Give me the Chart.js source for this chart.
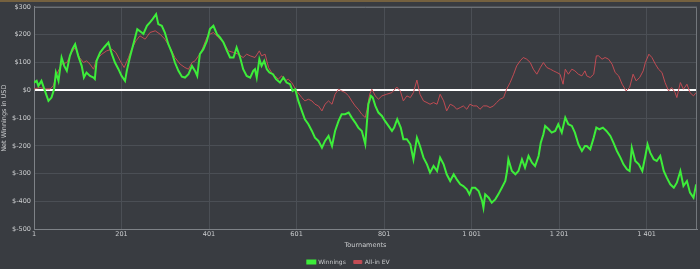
<!DOCTYPE html>
<html>
<head>
<meta charset="utf-8">
<script src="https://cdn.jsdelivr.net/npm/chart.js@4.4.1/dist/chart.umd.min.js"></script>
<style>
  html, body { margin: 0; padding: 0; background: #393c41; }
  #wrap { width: 700px; height: 269px; overflow: hidden; }
</style>
</head>
<body>
<div id="wrap"><canvas id="netChart" width="700" height="269"></canvas></div>
<script>
// Winnings (green) - tournament number / net USD
var winT = [1, 7, 11, 18, 26, 34, 41, 47, 51, 57, 64, 70, 76, 83, 89, 95, 102, 110, 115, 121,
  129, 137, 140, 144, 152, 161, 171, 179, 186, 194, 201, 209, 213, 220, 228, 237, 247, 251, 259, 266,
  272, 280, 285, 293, 300, 308, 316, 323, 331, 339, 346, 354, 362, 369, 374, 380, 388, 396, 403, 411,
  419, 426, 434, 442, 449, 457, 464, 472, 479, 487, 495, 502, 506, 510, 516, 521, 527, 533, 539, 547,
  554, 563, 571, 578, 586, 592, 598, 605, 613, 620, 628, 636, 643, 651, 659, 666, 674, 682, 689, 697,
  704, 712, 720, 727, 735, 742, 750, 754, 758, 762, 765, 771, 775, 781, 788, 796, 803, 811, 819, 824,
  831, 839, 845, 853, 861, 868, 876, 883, 891, 899, 906, 914, 922, 929, 937, 944, 952, 960, 967, 975,
  982, 990, 996, 1002, 1009, 1017, 1025, 1028, 1032, 1040, 1047, 1055, 1062, 1070, 1078, 1082, 1085, 1093, 1101, 1108,
  1116, 1123, 1131, 1139, 1146, 1154, 1159, 1165, 1169, 1177, 1184, 1192, 1199, 1207, 1215, 1222, 1230, 1237, 1245, 1253,
  1260, 1264, 1272, 1280, 1286, 1293, 1301, 1309, 1318, 1325, 1333, 1341, 1348, 1356, 1362, 1367, 1375, 1383, 1391, 1398,
  1403, 1409, 1417, 1424, 1432, 1440, 1447, 1455, 1463, 1470, 1478, 1485, 1493, 1500, 1508, 1514];
var winV = [28, 34, 16, 34, -2, -38, -26, 5, 64, 34, 118, 88, 70, 124, 149, 166, 124, 88, 46, 64,
  52, 46, 41, 106, 136, 154, 172, 130, 100, 76, 52, 34, 70, 118, 166, 220, 208, 203, 232, 244,
  256, 274, 238, 232, 208, 166, 136, 100, 70, 49, 46, 58, 88, 70, 52, 130, 148, 178, 220, 232,
  202, 190, 172, 142, 118, 118, 154, 118, 76, 52, 46, 70, 76, 46, 112, 88, 106, 76, 64, 58,
  40, 28, 46, 28, 22, -2, 4, -38, -74, -104, -122, -146, -170, -182, -206, -182, -164, -200, -146, -110,
  -86, -86, -80, -98, -116, -134, -146, -170, -194, -110, -50, -20, -26, -56, -80, -92, -110, -128, -146, -134,
  -104, -134, -176, -176, -194, -248, -170, -200, -242, -266, -296, -272, -290, -242, -266, -302, -326, -302, -320, -338,
  -344, -356, -374, -350, -350, -362, -398, -422, -374, -386, -404, -392, -374, -350, -326, -290, -248, -290, -302, -290,
  -248, -278, -236, -260, -272, -236, -188, -158, -128, -140, -152, -146, -122, -152, -98, -122, -128, -152, -194, -218,
  -200, -200, -212, -170, -134, -140, -134, -146, -164, -188, -218, -242, -266, -284, -290, -206, -254, -266, -290, -236,
  -194, -224, -248, -254, -236, -290, -314, -338, -350, -332, -290, -344, -326, -368, -386, -338];

// All-in EV (red)
var evT = [1, 15, 26, 38, 45, 53, 64, 76, 87, 95, 105, 114, 121, 129, 137, 144, 156, 167, 179, 188,
  198, 207, 217, 224, 234, 243, 255, 266, 278, 289, 300, 312, 323, 335, 346, 354, 362, 369, 377, 384,
  396, 403, 411, 422, 434, 445, 457, 468, 479, 487, 495, 506, 516, 521, 529, 537, 544, 552, 559, 567,
  575, 582, 590, 601, 613, 620, 628, 636, 643, 651, 659, 666, 674, 682, 689, 697, 704, 712, 720, 727,
  735, 742, 750, 758, 762, 768, 773, 781, 788, 796, 807, 819, 830, 838, 845, 853, 861, 868, 876, 883,
  891, 899, 906, 914, 922, 929, 937, 944, 952, 960, 967, 975, 982, 990, 997, 1005, 1013, 1020, 1028, 1036,
  1043, 1051, 1058, 1066, 1074, 1081, 1089, 1097, 1104, 1112, 1119, 1127, 1135, 1142, 1150, 1158, 1165, 1173, 1181, 1188,
  1196, 1203, 1210, 1215, 1222, 1230, 1237, 1245, 1253, 1260, 1264, 1272, 1280, 1286, 1291, 1299, 1306, 1314, 1322, 1329,
  1337, 1345, 1354, 1362, 1370, 1377, 1385, 1393, 1398, 1406, 1413, 1421, 1428, 1436, 1443, 1451, 1458, 1466, 1470, 1478,
  1485, 1493, 1500, 1508, 1514];
var evV = [5, 10, 5, 5, 16, 58, 94, 100, 136, 154, 118, 100, 106, 94, 76, 112, 130, 142, 148, 136,
  106, 82, 118, 148, 178, 196, 184, 208, 214, 202, 184, 154, 118, 94, 82, 76, 100, 106, 124, 142,
  190, 202, 208, 190, 172, 142, 136, 130, 118, 130, 124, 118, 142, 124, 130, 82, 64, 52, 40, 52,
  34, 40, 28, -2, -26, -38, -32, -38, -50, -56, -74, -50, -38, -50, -14, 4, -2, -8, -20, -38,
  -56, -68, -86, -98, -68, -14, 4, -20, -32, -20, -14, -8, 12, -2, -38, -20, -26, -8, 37, -14,
  -38, -44, -50, -44, -50, -14, -38, -74, -50, -56, -68, -62, -56, -68, -50, -56, -56, -68, -56, -56,
  -62, -56, -44, -32, -26, 4, 28, 58, 88, 106, 118, 112, 100, 76, 58, 82, 100, 82, 76, 70,
  64, 58, 22, 76, 58, 76, 70, 58, 52, 70, 52, 46, 58, 124, 124, 112, 118, 112, 94, 64,
  52, 22, -2, 10, 58, 34, 46, 70, 100, 130, 118, 94, 76, 64, 28, -2, 10, -8, -26, 28,
  4, 22, -8, -20, -8];

var xTicks = [1, 201, 401, 601, 801, 1001, 1201, 1401];
var yTicks = [-500, -400, -300, -200, -100, 0, 100, 200, 300];

var textColor = '#c9cbcd';
var gridColor = '#4b4f55';
var tickFont = { family: 'DejaVu Sans', size: 6.5 };
var legendFont = { family: 'DejaVu Sans', size: 6 };

function toPoints(xs, ys) {
    return xs.map(function(x, i) { return { x: x, y: ys[i] }; });
}

// "1001" -> "1 001"
function spaced(v) {
    return String(v).replace(/\B(?=(\d{3})+(?!\d))/g, ' ');
}

var backdrop = {
    id: 'backdrop',
    beforeDraw: function(chart) {
        var c = chart.ctx;
        c.save();
        c.fillStyle = '#393c41';
        c.fillRect(0, 0, chart.width, chart.height);
        c.fillStyle = '#75613f';
        c.fillRect(0, 0, chart.width, 2);
        c.restore();
    },
    afterDraw: function(chart) {
        var a = chart.chartArea, c = chart.ctx;
        c.save();
        c.strokeStyle = '#73777c';
        c.lineWidth = 1;
        c.beginPath();
        c.moveTo(a.left, a.top + 0.5);
        c.lineTo(a.right - 0.5, a.top + 0.5);
        c.lineTo(a.right - 0.5, a.bottom);
        c.stroke();
        c.restore();
    }
};

var ctx = document.getElementById('netChart').getContext('2d');
var netChart = new Chart(ctx, {
    type: 'line',
    data: {
        datasets: [
            {
                label: 'Winnings',
                data: toPoints(winT, winV),
                borderColor: '#3ded3a',
                backgroundColor: '#3ded3a',
                borderWidth: 2,
                pointRadius: 0,
                tension: 0
            },
            {
                label: 'All-in EV',
                data: toPoints(evT, evV),
                borderColor: '#c24c54',
                backgroundColor: '#c24c54',
                borderWidth: 1,
                pointRadius: 0,
                tension: 0
            }
        ]
    },
    options: {
        responsive: false,
        devicePixelRatio: 1,
        animation: false,
        layout: { padding: { top: 2, right: 3, left: 0, bottom: -6 } },
        plugins: {
            tooltip: { enabled: false },
            legend: {
                position: 'bottom',
                labels: {
                    color: textColor,
                    font: legendFont,
                    boxWidth: 8,
                    boxHeight: 3,
                    padding: 8
                }
            }
        },
        scales: {
            x: {
                type: 'linear',
                min: 1,
                max: 1516,
                afterBuildTicks: function(scale) {
                    scale.ticks = xTicks.map(function(v) { return { value: v }; });
                },
                ticks: {
                    color: textColor,
                    font: tickFont,
                    maxRotation: 0,
                    autoSkip: false,
                    padding: 1,
                    callback: function(v) { return spaced(v); }
                },
                grid: { color: gridColor, drawTicks: false },
                border: { color: '#7e8287' },
                title: {
                    display: true,
                    text: 'Tournaments',
                    color: textColor,
                    font: tickFont,
                    padding: { top: 2, bottom: 2 }
                }
            },
            y: {
                min: -500,
                max: 300,
                afterBuildTicks: function(scale) {
                    scale.ticks = yTicks.map(function(v) { return { value: v }; });
                },
                afterFit: function(scale) { scale.width = 34; },
                ticks: {
                    color: textColor,
                    font: tickFont,
                    padding: 3,
                    callback: function(v) { return '$' + v; }
                },
                grid: {
                    drawTicks: false,
                    color: function(c) { return c.tick && c.tick.value === 0 ? '#ffffff' : gridColor; },
                    lineWidth: function(c) { return c.tick && c.tick.value === 0 ? 2 : 1; }
                },
                border: { color: '#7e8287' },
                title: {
                    display: true,
                    text: 'Net Winnings in USD',
                    color: textColor,
                    font: tickFont,
                    padding: 0
                }
            }
        }
    },
    plugins: [backdrop]
});
</script>
</body>
</html>
